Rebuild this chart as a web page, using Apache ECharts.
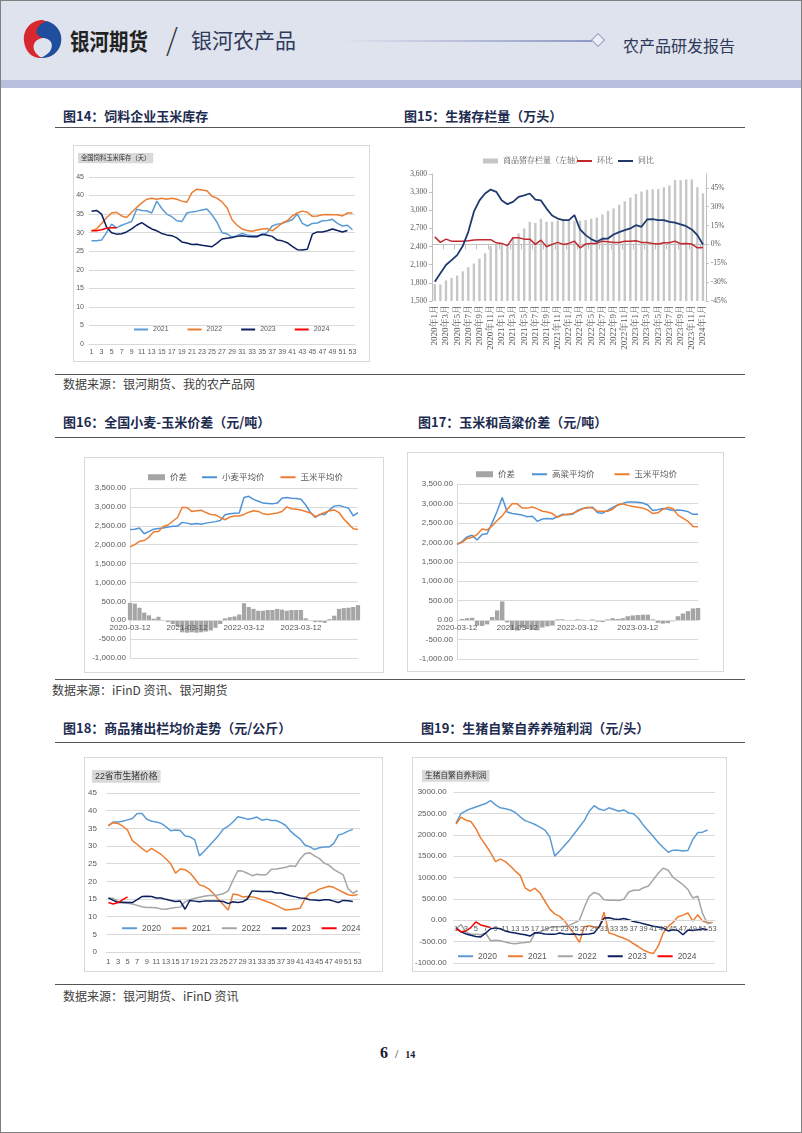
<!DOCTYPE html>
<html><head><meta charset="utf-8">
<script src="https://cdn.jsdelivr.net/npm/echarts@6/dist/echarts.min.js"></script>
<style>
html,body{margin:0;padding:0;background:#fff;}
#page{position:relative;width:802px;height:1133px;overflow:hidden;background:#fff;font-family:'Noto Sans CJK SC',sans-serif;}
.abs{position:absolute;}
.rule{position:absolute;left:55px;width:690px;height:0;border-top:1.5px solid #555;}
.ttl{position:absolute;font-size:13px;font-weight:bold;color:#1d2b4f;line-height:16px;white-space:nowrap;}
.src{position:absolute;font-size:12px;color:#404040;line-height:14px;white-space:nowrap;}
.box{position:absolute;border:1px solid #d9d9d9;box-sizing:border-box;}
.ch{position:absolute;}
</style></head>
<body>
<div id="page">
  <div class="abs" style="left:0;top:0;width:802px;height:80px;background:#dfe3ee;"></div>
  <div class="abs" style="left:0;top:80px;width:802px;height:8px;background:#b9c0dd;"></div>
  <svg class="abs" style="left:20px;top:17px" width="46" height="44" viewBox="0 0 46 44">
    <path d="M23 3 C10 3 3 13 4 24 C5 35 13 42 22 41 C14 37 11 29 16 24 C20 20 27 22 30 17 C33 12 30 5 23 3 Z" fill="#d7282f"/>
    <path d="M27 4 C37 7 43 16 41 26 C39 36 30 42 20 41 C29 38 34 31 31 25 C28 20 20 22 17 17 C15 12 20 6 27 4 Z" fill="#1f4e9e"/>
  </svg>
  <div class="abs" style="left:70px;top:25px;font-size:19.5px;font-weight:bold;color:#222;line-height:28px;transform:scaleY(1.15);transform-origin:left top;">银河期货</div>
  <div class="abs" style="left:166px;top:20px;font-size:30px;color:#333;line-height:36px;font-weight:200;">/</div>
  <div class="abs" style="left:191px;top:26px;font-size:21px;color:#2f3a5a;line-height:26px;">银河农产品</div>
  <div class="abs" style="left:340px;top:40px;width:252px;height:1.5px;background:linear-gradient(to right,rgba(143,152,196,0),#8f98c4);"></div>
  <div class="abs" style="left:593px;top:35px;width:8px;height:8px;border:1px solid #8f98c4;background:#eef0f6;transform:rotate(45deg);"></div>
  <div class="abs" style="left:623px;top:35px;font-size:16px;color:#2f3a5a;line-height:20px;">农产品研发报告</div>

  <div class="ttl" style="left:63px;top:108px;">图14：饲料企业玉米库存</div>
  <div class="ttl" style="left:404px;top:108px;">图15：生猪存栏量（万头）</div>
  <div class="rule" style="top:127px;"></div>
  <div class="box" style="left:73px;top:145px;width:297px;height:217px;"></div>
  <div class="ch" id="c14" style="left:73px;top:145px;width:297px;height:217px;"></div>
  <div class="ch" id="c15" style="left:400px;top:140px;width:330px;height:230px;"></div>
  <div class="rule" style="top:374px;"></div>
  <div class="src" style="left:63px;top:377px;">数据来源：银河期货、我的农产品网</div>

  <div class="ttl" style="left:63px;top:414px;">图16：全国小麦-玉米价差（元/吨）</div>
  <div class="ttl" style="left:418px;top:414px;">图17：玉米和高粱价差（元/吨）</div>
  <div class="rule" style="top:437px;"></div>
  <div class="box" style="left:84px;top:457px;width:300px;height:216px;"></div>
  <div class="ch" id="c16" style="left:84px;top:457px;width:300px;height:216px;"></div>
  <div class="box" style="left:407px;top:452px;width:317px;height:220px;"></div>
  <div class="ch" id="c17" style="left:407px;top:452px;width:317px;height:220px;"></div>
  <div class="rule" style="top:679px;"></div>
  <div class="src" style="left:52px;top:683px;">数据来源：iFinD 资讯、银河期货</div>

  <div class="ttl" style="left:63px;top:720px;">图18：商品猪出栏均价走势（元/公斤）</div>
  <div class="ttl" style="left:421px;top:720px;">图19：生猪自繁自养养殖利润（元/头）</div>
  <div class="rule" style="top:742px;"></div>
  <div class="box" style="left:84px;top:757px;width:299px;height:215px;"></div>
  <div class="ch" id="c18" style="left:84px;top:757px;width:299px;height:215px;"></div>
  <div class="box" style="left:412px;top:757px;width:315px;height:215px;"></div>
  <div class="ch" id="c19" style="left:412px;top:757px;width:315px;height:215px;"></div>
  <div class="rule" style="top:984px;"></div>
  <div class="src" style="left:63px;top:989px;">数据来源：银河期货、iFinD 资讯</div>

  <div class="abs" style="left:380px;top:1043px;font-family:'Liberation Serif',serif;color:#1a1a2e;white-space:nowrap;line-height:20px;">
    <span style="font-size:16px;font-weight:bold;">6</span>
    <span style="font-size:12px;margin:0 3px;">/</span>
    <span style="font-size:10px;font-weight:bold;">14</span>
  </div>
  <div class="abs" style="left:0;top:0;width:802px;height:1133px;box-sizing:border-box;border:1px solid #808080;pointer-events:none;"></div>
</div>
<script>
// ---------- categories / tick labels ----------
const weeks = [];
for (let i = 1; i <= 53; i++) weeks.push(String(i));
const months15 = [];
for (let y = 2020; y <= 2024; y++) for (let m = 1; m <= 12; m++) { if (y === 2024 && m > 1) break; months15.push(y + '年' + m + '月'); }
const dates16 = [];
for (let y = 2020; y <= 2024; y++) for (let m = 1; m <= 12; m++) {
  if ((y === 2020 && m < 3) || (y === 2024 && m > 3)) continue;
  dates16.push(y + '-' + String(m).padStart(2, '0') + '-12');
}
const dateTicks = ['2020-03-12', '2021-03-12', '2022-03-12', '2023-03-12'];

// ---------- 图14 饲料企业玉米库存（天） ----------
const inv2021 = [27.8,27.8,28,30,32.3,31.3,32,32.5,33,36.3,36,35.9,35.3,38.5,36.5,35,34.3,33.2,33,35.3,35.6,35.8,36.1,36.4,34.8,32.8,30,29.7,28.8,29.2,29.8,29.4,29.2,29.2,29.4,30,31.8,32.3,32.5,33,33.5,35,32.5,31.8,32.5,32.6,33.2,33.3,33.6,32.5,31.8,32,30.8];
const inv2022 = [30.5,31,32.5,34,35.3,35.5,34.5,34.1,35.5,36.8,38,39,39.3,39,39.3,39,39.3,39,38.5,38.2,40.8,41.7,41.5,41.3,39.8,39.3,38.3,36.7,33.5,32,31,30.6,30.4,30.7,31,31.1,30.5,31.5,32.6,33.2,34.5,35.3,35.8,35.5,34.4,34.5,34.8,34.9,34.8,34.8,34.5,35.3,35.3];
const inv2023 = [35.8,36,35,31.5,30,29.6,29.7,30.2,31,32,32.7,31.8,31,30.5,29.8,29.4,29.2,28.6,27.5,27.2,26.8,26.9,26.6,26.4,26.2,27.2,28.3,28.5,28.7,29,29.2,29,28.9,28.9,29.6,29.3,29,28,27.8,27.3,26.3,25.4,25.3,25.5,29.6,30.2,30.2,30.5,31,30.6,30.2,30.6];
const inv2024 = [30.5,30.5,30.8,31.2,31.3,31.3];

// ---------- 图15 生猪存栏量（万头） ----------
const hogStock = [1780,1770,1840,1880,1920,1990,2060,2120,2200,2290,2410,2440,2460,2430,2560,2620,2700,2810,2790,2860,2810,2810,2830,2840,2840,2820,2830,2840,2860,2880,2930,2990,3030,3090,3150,3210,3270,3310,3340,3350,3350,3380,3410,3500,3500,3510,3510,3380,3280];
const hogMom = [6,1.6,4.2,2.6,2.6,2.6,3,3.5,3.8,3.8,3.8,1.3,0.8,-1,5.3,5.3,4.2,4.2,0,3.4,-1.9,0,1.6,0,0.8,2.6,-2.7,0.3,0.8,0.8,2.6,2.1,1.6,1.6,2.6,2.6,2.9,1.6,1.6,0.8,0.3,1.3,1.3,2.6,0.5,0.8,0.3,-2.7,-2.4];
const hogYoy = [-29.7,-23,-16.4,-12.5,-8.5,-1.3,10,26,35,40.5,43.6,41.8,35,32,33.8,37.8,39,40.5,35.7,35,28.5,23,20.6,19.3,19.3,23.3,11.9,7.4,4.2,2.1,4.5,4.7,7.9,9.8,11.3,12.7,15.3,14,19.8,20.1,19.3,19.3,18,17.4,15.9,14.5,11.9,7.4,0];

// ---------- 图16 全国小麦-玉米价差 ----------
const wheat16 = [2400,2410,2440,2290,2350,2410,2430,2440,2470,2490,2490,2590,2570,2540,2560,2540,2570,2590,2610,2640,2790,2820,2830,2840,3250,3280,3200,3150,3100,3090,3080,3100,3230,3250,3230,3220,3200,3050,2850,2720,2800,2800,2920,3020,3040,3000,2970,2760,2850];
const corn16 = [1940,2000,2090,2110,2200,2340,2350,2480,2520,2620,2720,2990,2980,2880,2900,2910,2850,2800,2790,2720,2660,2730,2760,2760,2800,2860,2900,2880,2820,2800,2820,2840,2880,3000,2950,2940,2920,2880,2840,2740,2800,2850,2900,2920,2850,2680,2550,2420,2400];
const spread16 = [460,440,330,200,130,40,90,0,-50,-100,-170,-320,-330,-320,-330,-320,-300,-270,-200,-100,50,80,100,150,450,350,300,250,250,270,270,300,280,250,270,270,270,50,0,-50,-50,-70,30,120,300,320,330,350,400];

// ---------- 图17 玉米和高粱价差 ----------
const sorghum17 = [1950,2020,2140,2180,2060,2200,2220,2500,2800,3150,2780,2740,2720,2700,2660,2670,2540,2600,2610,2600,2660,2720,2710,2720,2820,2870,2890,2900,2760,2750,2820,2900,2960,3000,3040,3040,3030,3010,2960,2820,2840,2870,2850,2820,2830,2820,2790,2720,2720];
const corn17 = [1950,2000,2100,2130,2200,2340,2320,2420,2560,2680,2850,2990,2990,2880,2880,2910,2860,2800,2780,2740,2640,2700,2720,2740,2800,2860,2900,2880,2800,2800,2800,2850,2960,2990,2950,2920,2900,2880,2830,2740,2760,2850,2900,2870,2700,2620,2540,2410,2400];
const spread17 = [0,30,50,60,-140,-150,-110,80,250,480,-60,-250,-270,-190,-230,-240,-260,-190,-160,-140,20,20,-10,-20,20,10,-10,20,-40,-50,20,50,30,50,100,120,130,140,140,20,-70,-90,-80,-30,100,170,230,300,310];

// ---------- 图18 22省市生猪价格 ----------
const p2020 = [35.7,36.8,36.8,37,37.4,37.8,39.2,39.2,37.6,37,36.8,36.4,35.5,34.3,34.5,34.4,32.8,32.6,31.8,27.2,28.5,30,31.5,33,34.8,35.6,36.8,38.3,38,37.6,37.8,38.2,37.3,37.6,37.2,37.2,36.6,35.8,34.2,33,32,30.3,29.8,29,29.5,29.7,29.7,30.7,33.1,33.5,34.2,34.7];
const p2021 = [35.8,36.6,36.4,35.6,34.5,31.5,30.5,29.3,28.3,29.3,28.5,27.6,26.4,25,22.3,23.5,23.3,22.4,20.8,19,18.6,17.8,16.4,14.8,13.4,11.9,16.4,16.2,15.6,15.7,15.6,15.3,14.8,14.3,13.8,13.2,12.5,11.9,12,12.2,12.4,15,16.6,16.9,17.8,18.2,18.6,18.3,17.6,16.9,16.2,16,16.3];
const p2022 = [15.2,15.2,14.3,14,13.8,13.6,13.2,12.8,12.6,12.6,12.5,12.2,12.1,12.4,12.6,12.7,14.2,14.8,15.2,15.5,15.8,16,16,16.2,16.5,17.3,20.3,23,22.9,22.3,21.6,22,21.8,21.9,23.4,23.5,23.7,24,24.4,24.2,26.3,27.8,28.1,27.2,26.5,25.2,24.6,23.4,22.6,21.8,18,16.6,17.4];
const p2023 = [15.3,14.6,14,14.1,14,14,14.8,15.7,15.8,15.7,15.3,15.3,14.9,14.6,14.3,14.4,12.1,14.6,14.4,14.2,14.4,14.4,14.4,14.4,14.3,13.7,14.2,14,14.2,15,17.3,17.2,17.1,17.1,17.1,16.7,16.7,16.3,15.9,15.6,15.3,15.2,14.8,14.7,14.6,14.8,14.8,14.4,14,14.6,14.5,14.3];
const p2024 = [14,13.6,14,14.8,15.6];

// ---------- 图19 生猪自繁自养利润 ----------
const prof2020 = [2275,2493,2560,2610,2650,2690,2730,2800,2700,2630,2610,2580,2520,2420,2330,2290,2240,2180,2110,1950,1500,1620,1750,1880,2030,2180,2330,2550,2680,2600,2570,2630,2590,2550,2580,2510,2490,2380,2220,2090,1960,1820,1700,1590,1640,1640,1620,1630,1890,2050,2060,2110];
const prof2021 = [2250,2410,2340,2310,2150,1920,1760,1580,1370,1430,1370,1270,1150,1050,760,680,750,640,450,260,150,90,-20,-170,-330,-520,-150,-130,-160,-180,190,-300,-330,-380,-420,-470,-550,-620,-700,-750,-780,-600,-300,-150,-50,80,120,170,-20,130,-20,-60,-50];
const prof2022 = [-200,-100,-280,-320,-330,-340,-300,-480,-470,-480,-510,-540,-550,-530,-520,-510,-300,-270,-220,-170,-150,-150,-140,-120,-60,0,300,560,650,610,480,470,470,460,490,660,700,700,760,800,950,1100,1220,1170,1000,920,830,720,520,560,150,-80,-50];
const prof2023 = [-180,-270,-320,-350,-380,-390,-300,-200,-180,-200,-250,-280,-300,-320,-340,-370,-290,-300,-320,-330,-330,-300,-320,-330,-320,-340,-330,-320,-300,-150,50,60,30,20,40,10,-30,-50,-80,-110,-140,-160,-180,-250,-220,-240,-340,-230,-240,-220,-200,-220];
const prof2024 = [-190,-270,-250,-170,-40,-110,-140,-170];

// ---------- helpers ----------
const FONT = "'Liberation Sans','Noto Sans CJK SC',sans-serif";
const SERIF = "'Liberation Serif','Noto Serif CJK SC','Noto Sans CJK SC',serif";
const GRAY = '#595959';
const GRID = '#d9d9d9';
const C_BLUE = '#5b9bd5', C_ORANGE = '#ed7d31', C_GRAY = '#a5a5a5', C_NAVY = '#0c1f5e', C_RED = '#ff0000';
function mk(id, opt) {
  const c = echarts.init(document.getElementById(id), null, { renderer: 'canvas' });
  opt.animation = false;
  c.setOption(opt);
}
function ln(name, data, color, w) {
  return { name, type: 'line', data, symbol: 'none', showSymbol: false, lineStyle: { color, width: w || 1.5 }, itemStyle: { color }, z: 3 };
}
const money = v => v.toLocaleString('en-US', { minimumFractionDigits: 2, maximumFractionDigits: 2 });
function tagTitle(text, left, top, size) {
  return { text, left, top, padding: [2, 3], backgroundColor: '#d9d9d9', textStyle: { fontSize: size, fontWeight: 'normal', color: '#333', fontFamily: FONT } };
}
function lineLegend(left, top, gap, size, font, names, w) {
  return { left, top, padding: 0, icon: 'rect', itemWidth: w || 15, itemHeight: 2, itemGap: gap, textStyle: { fontSize: size, color: GRAY, fontFamily: font }, data: names };
}

// 图14
mk('c14', {
  title: tagTitle('全国饲料玉米库存（天）', 5, 8, 6.3),
  grid: { left: 16, right: 15, top: 32, bottom: 18 },
  legend: lineLegend(61, 181, 19, 7, FONT, ['2021', '2022', '2023', '2024'], 14),
  xAxis: { type: 'category', data: weeks, boundaryGap: true, axisLine: { lineStyle: { color: GRID } }, axisTick: { show: false }, axisLabel: { interval: 1, fontSize: 7, color: GRAY, margin: 5, fontFamily: FONT } },
  yAxis: { type: 'value', min: 0, max: 45, interval: 5, axisLine: { show: false }, axisTick: { show: false }, splitLine: { lineStyle: { color: GRID } }, axisLabel: { fontSize: 7, color: GRAY, margin: 5, fontFamily: FONT } },
  series: [ln('2021', inv2021, C_BLUE), ln('2022', inv2022, C_ORANGE), ln('2023', inv2023, C_NAVY), ln('2024', inv2024, C_RED)]
});

// 图15
mk('c15', {
  grid: { left: 32, right: 23, top: 34, bottom: 69 },
  legend: [
    { left: 83, top: 17, padding: 0, icon: 'rect', itemWidth: 15, itemHeight: 5, textStyle: { fontSize: 8, color: GRAY, fontFamily: SERIF }, data: ['商品猪存栏量（左轴）'] },
    lineLegend(177, 17, 5, 8, SERIF, ['环比', '同比'])
  ],
  xAxis: { type: 'category', data: months15, boundaryGap: true, axisLine: { lineStyle: { color: '#bfbfbf' } }, axisTick: { show: true, lineStyle: { color: '#bfbfbf' } },
    axisLabel: { interval: 1, rotate: 90, fontSize: 9, color: GRAY, margin: 4, fontFamily: SERIF } },
  yAxis: [
    { type: 'value', min: 1500, max: 3600, interval: 300, axisLine: { show: true, lineStyle: { color: '#bfbfbf' } }, axisTick: { show: true, length: 3, lineStyle: { color: '#bfbfbf' } }, splitLine: { show: false }, axisLabel: { fontSize: 7.5, color: GRAY, margin: 5, fontFamily: SERIF } },
    { type: 'value', min: -45, max: 56, interval: 15, position: 'right', axisLine: { show: true, lineStyle: { color: '#bfbfbf' } }, axisTick: { show: true, length: 3, lineStyle: { color: '#bfbfbf' } }, splitLine: { show: false }, axisLabel: { showMaxLabel: false, fontSize: 7.5, color: GRAY, margin: 5, fontFamily: SERIF, formatter: v => v + '%' } }
  ],
  series: [
    { name: '商品猪存栏量（左轴）', type: 'bar', data: hogStock, yAxisIndex: 0, barWidth: '42%', itemStyle: { color: '#c6c6c6' }, z: 1 },
    Object.assign(ln('环比', hogMom, '#c0282e', 1.5), { yAxisIndex: 1 }),
    Object.assign(ln('同比', hogYoy, '#1f3a6e', 1.8), { yAxisIndex: 1 })
  ]
});

// 图16 / 图17
function spreadChart(id, grid, zeroOffset, legTop, legBar, legLine, gap, names, lineA, lineB, bars) {
  mk(id, {
    grid,
    legend: [
      { left: legBar, top: legTop, padding: 0, icon: 'rect', itemWidth: 17, itemHeight: 6, textStyle: { fontSize: 8.5, color: GRAY, fontFamily: FONT }, data: [names[0]] },
      lineLegend(legLine, legTop, gap, 8.5, FONT, [names[1], names[2]])
    ],
    xAxis: { type: 'category', data: dates16, boundaryGap: false, offset: -zeroOffset, z: 10, axisLine: { onZero: false, lineStyle: { color: GRID } }, axisTick: { show: false },
      axisLabel: { interval: (i, v) => dateTicks.includes(v), fontSize: 8, color: GRAY, margin: 4, fontFamily: FONT } },
    yAxis: { type: 'value', min: -1000, max: 3500, interval: 500, axisLine: { show: true, lineStyle: { color: GRID } }, axisTick: { show: false }, splitLine: { lineStyle: { color: GRID } },
      axisLabel: { fontSize: 8, color: GRAY, margin: 4, fontFamily: FONT, formatter: money } },
    series: [
      { name: names[0], type: 'bar', data: bars, barCategoryGap: '12%', itemStyle: { color: C_GRAY }, z: 1 },
      ln(names[1], lineA, '#4f93d6'),
      ln(names[2], lineB, C_ORANGE)
    ]
  });
}
spreadChart('c16', { left: 46, right: 26, top: 31, bottom: 15 }, 37.8, 16, 64, 118, 16, ['价差', '小麦平均价', '玉米平均价'], wheat16, corn16, spread16);
spreadChart('c17', { left: 50, right: 26, top: 32, bottom: 13 }, 38.9, 18, 69, 125, 20, ['价差', '高粱平均价', '玉米平均价'], sorghum17, corn17, spread17);

// 图18
mk('c18', {
  title: tagTitle('22省市生猪价格', 8, 13, 8.8),
  grid: { left: 22, right: 23, top: 36, bottom: 20 },
  legend: lineLegend(38, 167, 11, 8.5, FONT, ['2020', '2021', '2022', '2023', '2024']),
  xAxis: { type: 'category', data: weeks, boundaryGap: true, axisLine: { lineStyle: { color: GRID } }, axisTick: { show: false }, axisLabel: { interval: 1, fontSize: 7.5, color: GRAY, margin: 6, fontFamily: FONT } },
  yAxis: { type: 'value', min: 0, max: 45, interval: 5, axisLine: { show: false }, axisTick: { show: false }, splitLine: { lineStyle: { color: GRID } }, axisLabel: { fontSize: 8, color: GRAY, margin: 9, fontFamily: FONT } },
  series: [ln('2020', p2020, C_BLUE), ln('2021', p2021, C_ORANGE), ln('2022', p2022, C_GRAY), ln('2023', p2023, C_NAVY), ln('2024', p2024, C_RED)]
});

// 图19
mk('c19', {
  title: tagTitle('生猪自繁自养利润', 10, 13, 7.7),
  grid: { left: 40, right: 12, top: 35, bottom: 9 },
  legend: lineLegend(46, 195, 11, 8.5, FONT, ['2020', '2021', '2022', '2023', '2024']),
  xAxis: { type: 'category', data: weeks, boundaryGap: true, offset: -42.75, z: 10, axisLine: { onZero: false, lineStyle: { color: GRID } }, axisTick: { show: false }, axisLabel: { interval: 1, fontSize: 7.5, color: GRAY, margin: 5, fontFamily: FONT } },
  yAxis: { type: 'value', min: -1000, max: 3000, interval: 500, axisLine: { show: false }, axisTick: { show: false }, splitLine: { lineStyle: { color: GRID } }, axisLabel: { fontSize: 8, color: GRAY, margin: 7, fontFamily: FONT, formatter: v => v.toFixed(2) } },
  series: [ln('2020', prof2020, C_BLUE), ln('2021', prof2021, C_ORANGE), ln('2022', prof2022, C_GRAY), ln('2023', prof2023, C_NAVY), ln('2024', prof2024, C_RED)]
});
</script>
</body></html>
